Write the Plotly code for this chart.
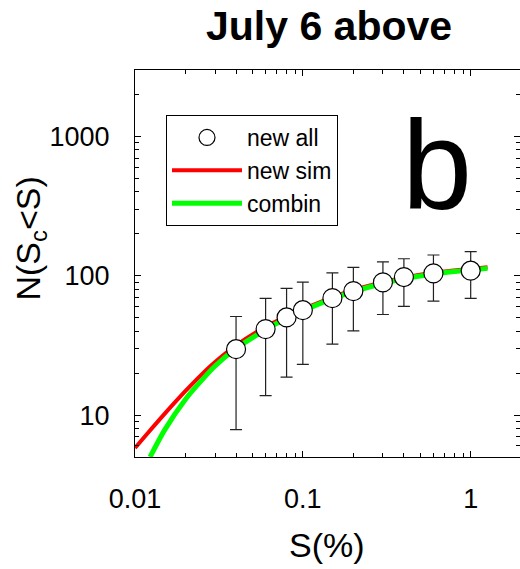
import numpy as np
import plotly.graph_objects as go

# Observed cumulative counts with asymmetric error bars
s_obs = [0.04, 0.06, 0.08, 0.1, 0.15, 0.2, 0.3, 0.4, 0.6, 1.0]
n_obs = [29.7, 41.4, 50.2, 56.6, 69.1, 77.6, 89.6, 97.9, 104, 108.7]
n_hi = [51, 68.8, 81.1, 90.1, 105, 115, 126, 132.5, 141, 149]
n_lo = [7.85, 13.8, 18.7, 23.1, 32.3, 40.2, 52.7, 60.2, 65.8, 68.8]

# Model curves
s_sim = [0.01, 0.012, 0.015, 0.02, 0.025, 0.03, 0.04, 0.06, 0.08, 0.1,
         0.15, 0.2, 0.3, 0.4, 0.6, 1.0, 1.26]
n_sim = [5.8, 7.5, 10.2, 14.9, 19.6, 24.0, 31.6, 43, 51, 57.5,
         70, 79, 90, 97, 105, 112, 115]
s_comb = [0.0123, 0.015, 0.02, 0.025, 0.03, 0.04, 0.06, 0.08, 0.1,
          0.15, 0.2, 0.3, 0.4, 0.6, 1.0, 1.26]
n_comb = [5, 7.8, 13, 17.8, 22.5, 30, 41, 49.5, 56,
          68.5, 77, 88, 95, 103, 110, 113]

x_ticks = [0.01, 0.1, 1]
x_labels = ["0.01", "0.1", "1"]
y_ticks = [10, 100, 1000]
y_labels = ["10", "100", "1000"]

FONT = "Liberation Sans, Arial, Helvetica, sans-serif"
x_range = [np.log10(0.01), np.log10(1.967)]
y_range = [np.log10(5), np.log10(3000)]

fig = go.Figure()

fig.add_trace(go.Scatter(
    x=s_sim, y=n_sim, mode="lines", name="new sim", legendrank=2,
    line=dict(color="#ff0000", width=4, shape="spline", smoothing=0.8),
))
fig.add_trace(go.Scatter(
    x=s_comb, y=n_comb, mode="lines", name="combin", legendrank=3,
    line=dict(color="#00ff00", width=5, shape="spline", smoothing=0.8),
))
fig.add_trace(go.Scatter(
    x=s_obs, y=n_obs, mode="markers", name="new all", legendrank=1,
    marker=dict(symbol="circle", size=19, color="white",
                line=dict(color="black", width=1.2)),
    error_y=dict(type="data", symmetric=False,
                 array=[h - n for h, n in zip(n_hi, n_obs)],
                 arrayminus=[n - l for n, l in zip(n_obs, n_lo)],
                 color="#222222", thickness=1.2, width=6),
))

axis_common = dict(
    type="log", showgrid=False, zeroline=False,
    showline=True, linecolor="black", linewidth=1, mirror="allticks",
    ticks="inside", ticklen=6, tickwidth=1, tickcolor="black",
    minor=dict(ticks="inside", ticklen=4, tickwidth=1, tickcolor="black",
               dtick="D1", showgrid=False),
    tickfont=dict(family=FONT, size=27, color="black"),
)

fig.update_layout(
    width=520, height=569,
    margin=dict(l=135, r=0, t=70, b=112),
    paper_bgcolor="white", plot_bgcolor="white",
    showlegend=True,
    title=dict(text="<b>July 6 above</b>", x=0.504, xref="paper",
               y=1 - 25.8 / 569, yref="container", xanchor="center",
               yanchor="middle",
               font=dict(family=FONT, size=41, color="black")),
    xaxis=dict(axis_common, range=x_range, tickvals=x_ticks,
               ticktext=x_labels, ticklabelstandoff=18),
    yaxis=dict(axis_common, range=y_range, tickvals=y_ticks,
               ticktext=y_labels, ticklabelstandoff=19),
    # Outward stubs of the major ticks on the labelled sides
    xaxis2=dict(type="log", overlaying="x", anchor="y", side="bottom",
                range=x_range, tickvals=x_ticks, ticks="outside", ticklen=7,
                tickwidth=1, tickcolor="black", showticklabels=False,
                showline=False, showgrid=False, zeroline=False),
    yaxis2=dict(type="log", overlaying="y", anchor="x", side="left",
                range=y_range, tickvals=y_ticks, ticks="outside", ticklen=7,
                tickwidth=1, tickcolor="black", showticklabels=False,
                showline=False, showgrid=False, zeroline=False),
    legend=dict(x=0.0805, y=0.8837, xanchor="left", yanchor="top",
                bgcolor="white", bordercolor="black", borderwidth=1,
                font=dict(family=FONT, size=23, color="black"),
                itemwidth=70, tracegroupgap=0),
    annotations=[
        dict(text="b", x=0.784, y=0.752, xref="paper", yref="paper",
             xanchor="center", yanchor="middle", showarrow=False,
             font=dict(family=FONT, size=126, color="black")),
        dict(text="S(%)", x=0.498, y=-0.2274, xref="paper", yref="paper",
             xanchor="center", yanchor="middle", showarrow=False,
             font=dict(family=FONT, size=34, color="black")),
        dict(text="N(S<sub>c</sub>&lt;S)", x=-0.2727, y=0.5646,
             xref="paper", yref="paper", textangle=-90,
             xanchor="center", yanchor="middle", showarrow=False,
             font=dict(family=FONT, size=34, color="black")),
    ],
)

fig.write_html("out.html")
